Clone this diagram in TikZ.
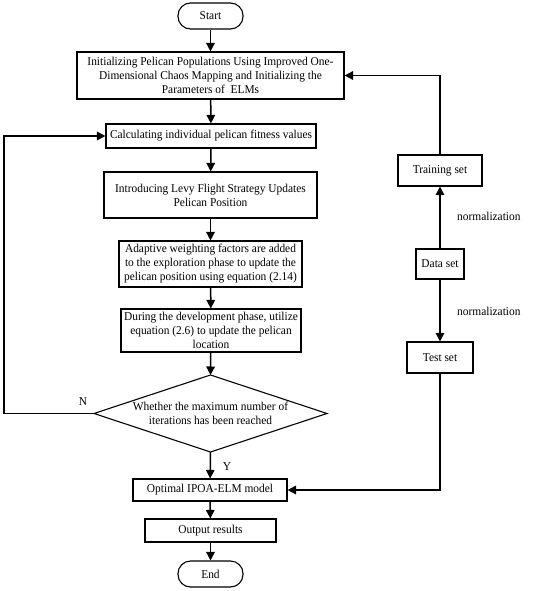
\documentclass[tikz,border=0pt]{standalone}
\usepackage{fontspec}
\setmainfont{Liberation Serif}[FakeStretch=0.95]
\usetikzlibrary{arrows.meta}
\begin{document}
\begin{tikzpicture}[x=1pt,y=-1pt,
  box/.style={draw,line width=1.1pt,inner sep=0pt,align=center,font=\fontsize{12}{14}\selectfont},
  term/.style={box,rounded corners=12.5pt},
  arr/.style={line width=1.5pt,-{Triangle[length=8.5pt,width=8.5pt]}},
  lbl/.style={font=\fontsize{12}{14}\selectfont,inner sep=0pt}]
\useasboundingbox (0,0) rectangle (544,591);
\node[term,minimum width=65pt,minimum height=26pt] (start) at (210.5,16) {Start};
\node[box,minimum width=267pt,minimum height=47pt] (init) at (210.5,75.5) {Initializing Pelican Populations Using Improved One-\\Dimensional Chaos Mapping and Initializing the\\Parameters of\ \ ELMs};
\node[box,minimum width=210pt,minimum height=24pt] (calc) at (211,136) {Calculating individual pelican fitness values};
\node[box,minimum width=213pt,minimum height=46pt] (levy) at (210.5,195) {Introducing Levy Flight Strategy Updates\\Pelican Position};
\node[box,minimum width=183pt,minimum height=46pt] (adapt) at (210.5,264) {Adaptive weighting factors are added\\to the exploration phase to update the\\pelican position using equation (2.14)};
\node[box,minimum width=180pt,minimum height=43pt] (dev) at (211,330.5) {During the development phase, utilize\\equation (2.6) to update the pelican\\location};
\coordinate (dc) at (210.5,413.5);
\coordinate (dt) at (210.5,375);
\coordinate (db) at (210.5,452);
\coordinate (dl) at (94,413.5);
\coordinate (dr) at (327,413.5);
\draw[line width=1.1pt] (dt) -- (dr) -- (db) -- (dl) -- cycle;
\node[lbl,align=center] (dtext) at (dc) {Whether the maximum number of\\iterations has been reached};
\node[box,minimum width=154pt,minimum height=22pt] (opt) at (210,490) {Optimal IPOA-ELM model};
\node[box,minimum width=131pt,minimum height=23pt] (out) at (210.5,530.5) {Output results};
\node[term,minimum width=65pt,minimum height=26pt] (end) at (210.5,574) {End};
\node[box,minimum width=84pt,minimum height=31pt] (train) at (440,170.5) {Training set};
\node[box,minimum width=48pt,minimum height=30pt] (data) at (440,264) {Data set};
\node[box,minimum width=66pt,minimum height=31pt] (test) at (440,357.5) {Test set};
\node[lbl,anchor=west] (n1) at (457,216) {normalization};
\node[lbl,anchor=west] (n2) at (457,311) {normalization};
\node[lbl] (nlab) at (83,402) {N};
\node[lbl] (ylab) at (227,467) {Y};
\draw[arr] (start) -- (init);
\draw[arr] (init) -- (calc);
\draw[arr] (calc) -- (levy);
\draw[arr] (levy) -- (adapt);
\draw[arr] (adapt) -- (dev);
\draw[arr] (dev) -- (dt);
\draw[arr] (db) -- (opt);
\draw[arr] (opt) -- (out);
\draw[arr] (out) -- (end);
\draw[arr] (dl) -- (4,413.5) -- (4,136) -- (calc.west);
\draw[arr] (data) -- (train);
\draw[arr] (data) -- (test);
\draw[arr] (train.north) |- (init.east);
\draw[arr] (test.south) |- (opt.east);
\end{tikzpicture}
\end{document}
